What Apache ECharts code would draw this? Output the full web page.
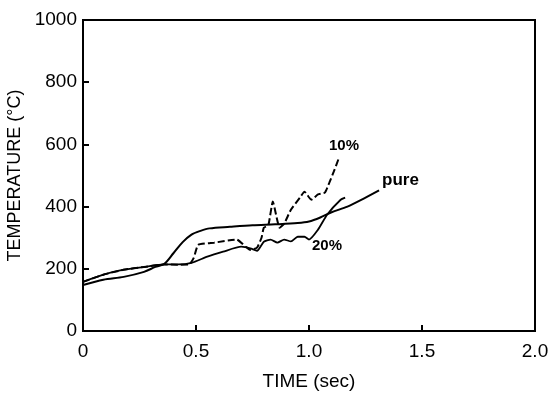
<!DOCTYPE html>
<html><head><meta charset="utf-8">
<script src="https://cdn.jsdelivr.net/npm/echarts@6/dist/echarts.min.js"></script>
<style>html,body{margin:0;padding:0;background:#fff}#c{width:560px;height:396px}</style>
</head><body><div id="c"></div>
<script>
const xTicks = [0, 0.5, 1.0, 1.5, 2.0];
const yTicks = [0, 200, 400, 600, 800, 1000];
const purePts = [[0,148],[0.09,165],[0.18,174],[0.27,190],[0.32,206],[0.36,216],[0.40,250],[0.44,285],[0.48,310],[0.52,322],[0.56,330],[0.65,335],[0.75,340],[0.85,343],[0.95,347],[1.0,352],[1.05,365],[1.1,382],[1.17,400],[1.24,425],[1.31,452]];
const tenPts = [[0,158],[0.09,181],[0.18,197],[0.27,206],[0.36,214],[0.42,213],[0.47,214],[0.49,235],[0.51,277],[0.58,284],[0.68,294],[0.72,271],[0.74,261],[0.77,268],[0.79,300],[0.80,332],[0.82,340],[0.84,416],[0.87,332],[0.89,345],[0.92,390],[0.96,429],[0.98,448],[1.01,422],[1.04,439],[1.07,445],[1.09,477],[1.11,513],[1.13,552]];
const twentyPts = [[0,158],[0.09,181],[0.18,197],[0.27,206],[0.36,214],[0.42,214],[0.48,219],[0.55,239],[0.62,255],[0.70,271],[0.74,266],[0.77,258],[0.80,287],[0.83,294],[0.86,284],[0.89,294],[0.92,288],[0.95,303],[0.98,303],[1.0,294],[1.04,326],[1.08,374],[1.14,422],[1.16,429]];
const seriesNames = ['pure','10%','20%'];
const xName = 'TIME (sec)';
const yName = 'TEMPERATURE (\u00B0C)';

const chart = echarts.init(document.getElementById('c'), null, {renderer:'canvas'});
const font = 'Liberation Sans, Arial, Helvetica, sans-serif';
chart.setOption({
  animation:false,
  grid:{left:83,right:25,top:20,bottom:65,show:true,borderColor:'#000',borderWidth:2,backgroundColor:'transparent',containLabel:false,outerBoundsMode:'none'},
  xAxis:{type:'value',min:0,max:2.0,interval:0.5,
    name:xName,nameLocation:'middle',nameGap:41,
    nameTextStyle:{color:'#000',fontSize:19,fontFamily:font},
    axisLine:{show:true,lineStyle:{color:'#000',width:2}},
    axisTick:{show:true,inside:true,length:6,lineStyle:{color:'#000',width:2}},
    axisLabel:{color:'#000',fontSize:19,fontFamily:font,margin:11,formatter:v=>v===0?'0':v.toFixed(1)},
    splitLine:{show:false}},
  yAxis:{type:'value',min:0,max:1000,interval:200,
    name:yName,nameLocation:'middle',nameGap:47,nameRotate:90,
    nameTextStyle:{color:'#000',fontSize:18,fontFamily:font},
    axisLine:{show:true,lineStyle:{color:'#000',width:2}},
    axisTick:{show:true,inside:true,length:6,lineStyle:{color:'#000',width:2}},
    axisLabel:{color:'#000',fontSize:19,fontFamily:font,margin:6,formatter:v=>String(v)},
    splitLine:{show:false}},
  series:[
    {name:seriesNames[0],type:'line',data:purePts,showSymbol:false,smooth:0.3,lineStyle:{color:'#000',width:2,type:'solid'}},
    {name:seriesNames[1],type:'line',data:tenPts,showSymbol:false,smooth:0.15,lineStyle:{color:'#000',width:2,type:[7,3]}},
    {name:seriesNames[2],type:'line',data:twentyPts,showSymbol:false,smooth:0.2,lineStyle:{color:'#000',width:1.8,type:'solid'}}
  ],
  graphic:[
    {type:'text',left:382,top:172,style:{text:seriesNames[0],fill:'#000',font:'bold 17px '+font}},
    {type:'text',left:329,top:138,style:{text:seriesNames[1],fill:'#000',font:'bold 15px '+font}},
    {type:'text',left:312,top:238,style:{text:seriesNames[2],fill:'#000',font:'bold 15px '+font}}
  ]
});
</script></body></html>
